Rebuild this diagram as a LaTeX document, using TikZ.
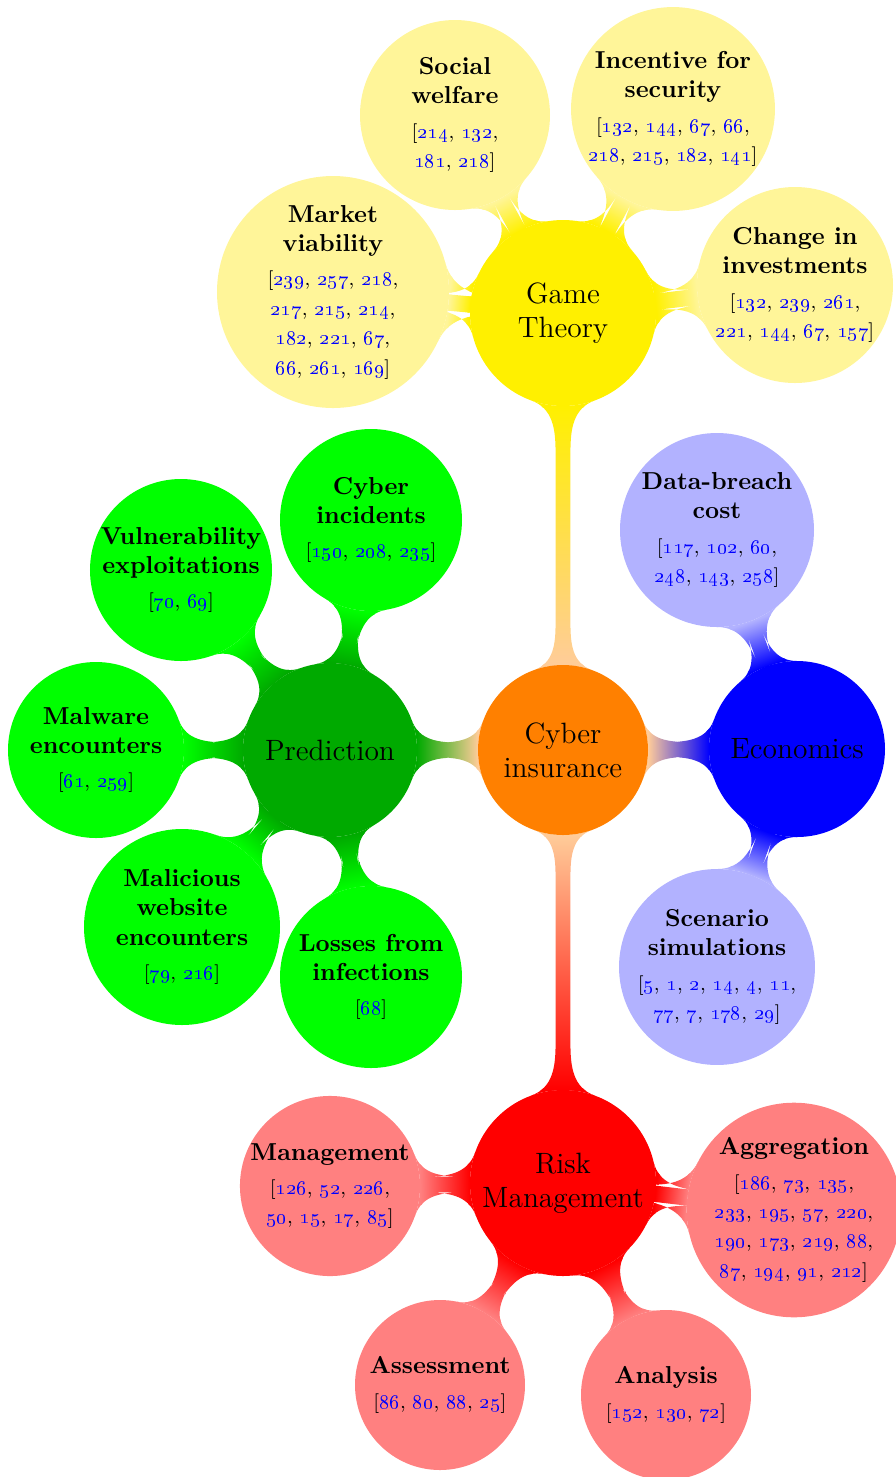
\documentclass[tikz,border=0pt]{standalone}
\usetikzlibrary{mindmap,backgrounds}
\definecolor{corange}{RGB}{255,128,0}
\definecolor{gtyellow}{RGB}{255,240,0}
\definecolor{lyellow}{RGB}{255,245,153}
\definecolor{cblue}{RGB}{0,0,255}
\definecolor{lblue}{RGB}{178,178,255}
\definecolor{pgreen}{RGB}{0,170,0}
\definecolor{lgreen}{RGB}{0,255,0}
\definecolor{cred}{RGB}{255,0,0}
\definecolor{lred}{RGB}{255,128,128}
\definecolor{pale}{RGB}{255,204,153}
\newcommand\cc[1]{\textcolor{blue}{\oldstylenums{#1}}}
\newcommand\ct[1]{{\normalfont\footnotesize #1}}
\begin{document}
\begin{tikzpicture}[x=0.40816pt,y=-0.40816pt,
  bubble/.style={circle,inner sep=0pt,outer sep=0pt,align=center,text=black,minimum size=#1*0.81633pt},
  hub/.style={font=\large},
  leaf/.style={font=\bfseries},
  decoration={amplitude=6.5pt,angle=20}]
\useasboundingbox (0,0) rectangle (896,1477);
% hubs
\node[bubble=85,fill=corange,hub] (ci) at (563,750) {Cyber\\insurance};
\node[bubble=88,fill=cblue,hub] (eco) at (797,749) {Economics};
\node[bubble=93,fill=gtyellow,hub] (gt) at (563,313) {Game\\Theory};
\node[bubble=87,fill=pgreen,hub] (pred) at (330,750) {Prediction};
\node[bubble=93,fill=cred,hub] (rm) at (563,1183) {Risk\\Management};
% game theory leaves
\node[bubble=116,fill=lyellow,leaf] (mv) at (333,292) {Market\\viability\\[2pt]
  \ct{[\cc{239}, \cc{257}, \cc{218},}\\ \ct{\cc{217}, \cc{215}, \cc{214},}\\
  \ct{\cc{182}, \cc{221}, \cc{67},}\\ \ct{\cc{66}, \cc{261}, \cc{169}]}};
\node[bubble=95,fill=lyellow,leaf] (sw) at (455,115) {Social\\welfare\\[2pt]
  \ct{[\cc{214}, \cc{132},}\\ \ct{\cc{181}, \cc{218}]}};
\node[bubble=97,fill=lyellow,leaf] (isec) at (673,109) {Incentive for\\security\\[2pt]
  \ct{[\cc{132}, \cc{144}, \cc{67}, \cc{66},}\\ \ct{\cc{218}, \cc{215}, \cc{182}, \cc{141}]}};
\node[bubble=98,fill=lyellow,leaf] (chi) at (795,285) {Change in\\investments\\[2pt]
  \ct{[\cc{132}, \cc{239}, \cc{261},}\\ \ct{\cc{221}, \cc{144}, \cc{67}, \cc{157}]}};
% economics leaves
\node[bubble=97,fill=lblue,leaf] (dbc) at (717,530) {Data-breach\\cost\\[2pt]
  \ct{[\cc{117}, \cc{102}, \cc{60},}\\ \ct{\cc{248}, \cc{143}, \cc{258}]}};
\node[bubble=97,fill=lblue,leaf] (ss) at (717,967) {Scenario\\simulations\\[2pt]
  \ct{[\cc{5}, \cc{1}, \cc{2}, \cc{14}, \cc{4}, \cc{11},}\\ \ct{\cc{77}, \cc{7}, \cc{178}, \cc{29}]}};
% prediction leaves
\node[bubble=91,fill=lgreen,leaf] (cinc) at (371,520) {Cyber\\incidents\\[2pt]
  \ct{[\cc{150}, \cc{208}, \cc{235}]}};
\node[bubble=91,fill=lgreen,leaf] (vul) at (181,570) {Vulnerability\\exploitations\\[2pt]
  \ct{[\cc{70}, \cc{69}]}};
\node[bubble=88,fill=lgreen,leaf] (mal) at (96,750) {Malware\\encounters\\[2pt]
  \ct{[\cc{61}, \cc{259}]}};
\node[bubble=98,fill=lgreen,leaf] (mwe) at (182,927) {Malicious\\website\\encounters\\[2pt]
  \ct{[\cc{79}, \cc{216}]}};
\node[bubble=91,fill=lgreen,leaf] (lfi) at (371,977) {Losses from\\infections\\[2pt]
  \ct{[\cc{68}]}};
% risk management leaves
\node[bubble=88,fill=lred,leaf] (man) at (330,1186) {Management\\[2pt]
  \ct{[\cc{126}, \cc{52}, \cc{226},}\\ \ct{\cc{50}, \cc{15}, \cc{17}, \cc{85}]}};
\node[bubble=85,fill=lred,leaf] (ass) at (440,1385) {Assessment\\[2pt]
  \ct{[\cc{86}, \cc{80}, \cc{88}, \cc{25}]}};
\node[bubble=85,fill=lred,leaf] (ana) at (666,1395) {Analysis\\[2pt]
  \ct{[\cc{152}, \cc{130}, \cc{72}]}};
\node[bubble=102,fill=lred,leaf] (agg) at (794,1210) {Aggregation\\[2pt]
  \ct{[\cc{186}, \cc{73}, \cc{135},}\\ \ct{\cc{233}, \cc{195}, \cc{57}, \cc{220},}\\
  \ct{\cc{190}, \cc{173}, \cc{219}, \cc{88},}\\ \ct{\cc{87}, \cc{194}, \cc{91}, \cc{212}]}};
% connections
\begin{pgfonlayer}{background}
\path (ci) to[circle connection bar switch color=from (pale) to (gtyellow)] (gt);
\path (ci) to[circle connection bar switch color=from (pale) to (cblue)] (eco);
\path (ci) to[circle connection bar switch color=from (pale) to (pgreen)] (pred);
\path (ci) to[circle connection bar switch color=from (pale) to (cred)] (rm);
\foreach \l in {mv,sw,isec,chi}
  \path (gt) to[circle connection bar switch color=from (gtyellow) to (lyellow)] (\l);
\foreach \l in {dbc,ss}
  \path (eco) to[circle connection bar switch color=from (cblue) to (lblue)] (\l);
\foreach \l in {cinc,vul,mal,mwe,lfi}
  \path (pred) to[circle connection bar switch color=from (pgreen) to (lgreen)] (\l);
\foreach \l in {man,ass,ana,agg}
  \path (rm) to[circle connection bar switch color=from (cred) to (lred)] (\l);
\end{pgfonlayer}
\end{tikzpicture}
\end{document}
